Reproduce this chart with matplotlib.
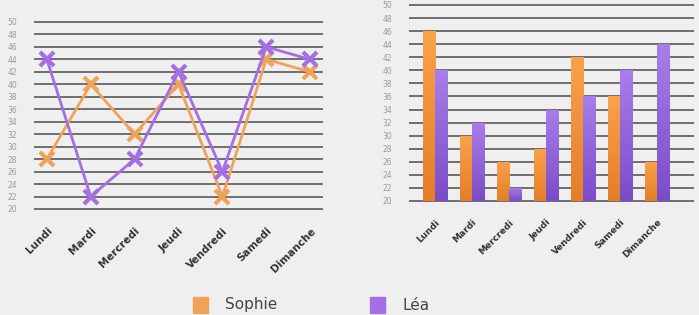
import matplotlib.pyplot as plt
import numpy as np
from matplotlib.colors import LinearSegmentedColormap

days = ["Lundi", "Mardi", "Mercredi", "Jeudi", "Vendredi", "Samedi", "Dimanche"]
line_sophie = [28, 40, 32, 40, 22, 44, 42]
line_lea = [44, 22, 28, 42, 26, 46, 44]
bar_sophie = [46, 30, 26, 28, 42, 36, 26]
bar_lea = [40, 32, 22, 34, 36, 40, 44]
yticks = list(range(20, 51, 2))
series_names = ["Sophie", "Léa"]

W, H = 699, 315
fig = plt.figure(figsize=(W / 100, H / 100), dpi=100)
fig.patch.set_facecolor("#efefef")

ORANGE_L = "#f0a358"
PURPLE_L = "#a56de6"
GRID = "#6e6e6e"
cmap_o = LinearSegmentedColormap.from_list("o", ["#e57d28", "#f9a24c"])
cmap_p = LinearSegmentedColormap.from_list("p", ["#7a4cc8", "#a77eea"])

def px_axes(x0, x1, y_top, y_bot):
    return fig.add_axes([x0 / W, 1 - y_bot / H, (x1 - x0) / W, (y_bot - y_top) / H])

def style(ax, fs_lab, weight):
    ax.set_facecolor("none")
    for s in ax.spines.values():
        s.set_visible(False)
    ax.set_ylim(20, 50)
    for t in yticks:
        ax.axhline(t, color=GRID, lw=1.4, zorder=0, clip_on=False)
    ax.set_yticks(yticks)
    ax.set_yticklabels([str(t) for t in yticks], fontsize=5.5, color="#9a9a9a")
    ax.tick_params(axis="y", length=0, pad=13)
    ax.tick_params(axis="x", length=0, pad=12)
    ax.set_xticks(range(len(days)))
    ax.set_xticklabels(days, rotation=45, ha="right", rotation_mode="anchor",
                       fontsize=fs_lab, color="#333333", fontweight=weight)

# Left line chart
ax1 = px_axes(35, 322, 22, 209)
x = np.arange(len(days))
ax1.plot(x, line_sophie, color=ORANGE_L, lw=2, marker="x", ms=10, mew=3, zorder=3, clip_on=False)
ax1.plot(x, line_lea, color=PURPLE_L, lw=2, marker="x", ms=10, mew=3, zorder=4, clip_on=False)
ax1.set_xlim(-0.27, 6.27)
style(ax1, 7.5, "semibold")

# Right bar chart
ax2 = px_axes(410, 693, 5, 201)
w = 0.33
grad = np.linspace(0, 1, 100).reshape(-1, 1)
for bars, cmap in ((ax2.bar(x - w / 2, [v - 20 for v in bar_sophie], width=w, bottom=20, zorder=3), cmap_o),
                   (ax2.bar(x + w / 2, [v - 20 for v in bar_lea], width=w, bottom=20, zorder=3), cmap_p)):
    for b in bars:
        b.set_facecolor("none")
        bx, by = b.get_x(), b.get_y()
        bw, bh = b.get_width(), b.get_height()
        im = ax2.imshow(grad, cmap=cmap, origin="lower", aspect="auto",
                        extent=(bx, bx + bw, by, by + bh), zorder=3)
        im.set_clip_path(b)
ax2.set_xlim(-0.68, 6.97)
ax2.set_ylim(20, 50)
style(ax2, 6.5, "bold")
ax2.set_aspect("auto")

# Legend
fig.patches.append(plt.Rectangle((193 / W, 1 - 313 / H), 15 / W, 16 / H,
                                 transform=fig.transFigure, color=ORANGE_L))
fig.patches.append(plt.Rectangle((370 / W, 1 - 313 / H), 15 / W, 16 / H,
                                 transform=fig.transFigure, color=PURPLE_L))
fig.text(225 / W, 1 - 305 / H, series_names[0], fontsize=11, color="#444444", va="center")
fig.text(403 / W, 1 - 305 / H, series_names[1], fontsize=11, color="#444444", va="center")

fig.savefig("out.png", dpi=100, facecolor=fig.get_facecolor())
